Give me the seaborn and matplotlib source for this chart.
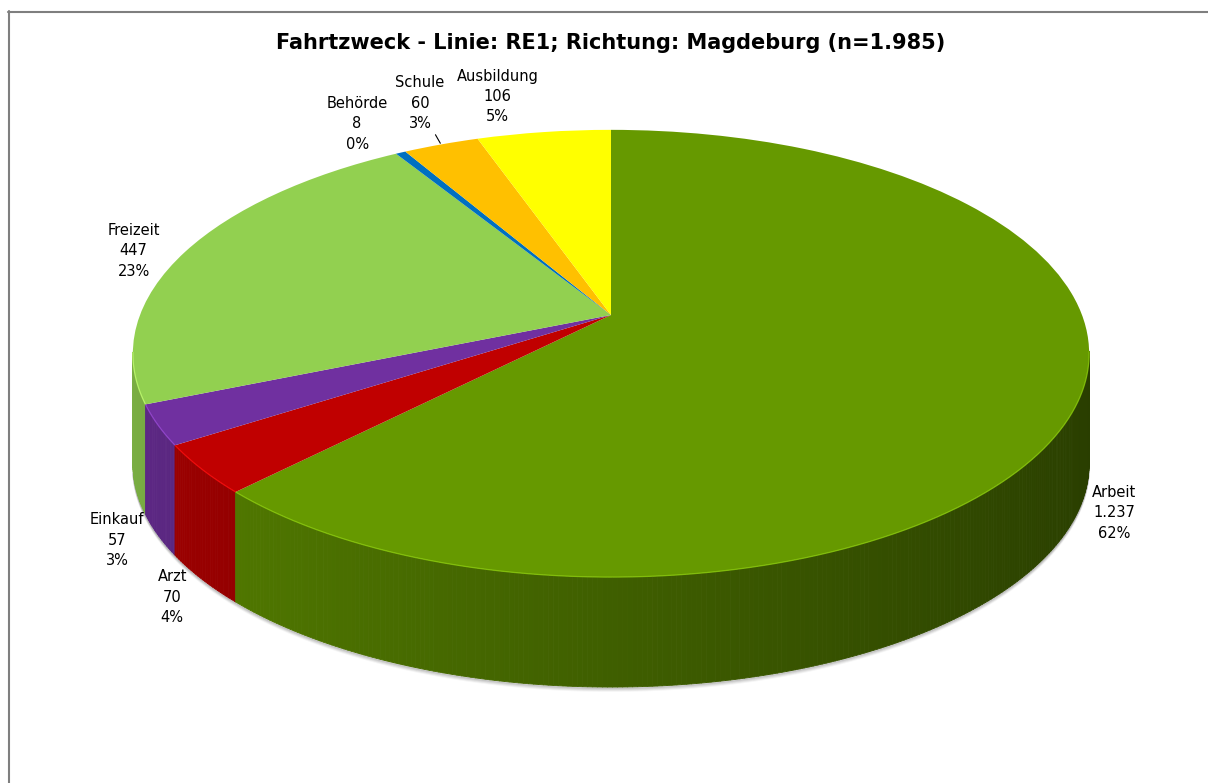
import numpy as np
import matplotlib
matplotlib.use("Agg")
import matplotlib.pyplot as plt
import matplotlib.colors as mcolors
from matplotlib.collections import PolyCollection
from matplotlib.transforms import Transform
from matplotlib.lines import Line2D
import seaborn as sns

# data
categories = ["Arbeit", "Arzt", "Einkauf", "Freizeit", "Behörde", "Schule", "Ausbildung"]
counts = [1237, 70, 57, 447, 8, 60, 106]
count_text = ["1.237", "70", "57", "447", "8", "60", "106"]
colors = ["#669900", "#c00000", "#7030a0", "#92d050", "#0070c0", "#ffc000", "#ffff00"]
title = "Fahrtzweck - Linie: RE1; Richtung: Magdeburg (n=1.985)"

# small manual label shifts (pixels, right / down) like Excel's label placement
label_nudge = {"Arbeit": (0, -12), "Arzt": (2, -3), "Einkauf": (-5, -10),
               "Freizeit": (-16, 9), "Behörde": (-25, -2), "Schule": (-6, -13),
               "Ausbildung": (-40, -5)}

sns.set_style("white")
plt.rcParams["font.family"] = ["DejaVu Sans"]

W, H = 1208, 783
# pie geometry in pixels: apex, x/y scale, wall height
cx, cy, sx, sy, depth_px = 611, 315, 471, 217, 110
P = 0.172  # perspective strength
D = depth_px / sy


class Tilt(Transform):
    """simple perspective tilt of the pie plane"""
    input_dims = output_dims = 2

    def __init__(self, p):
        super().__init__()
        self.p = p

    def transform_non_affine(self, xy):
        xy = np.asarray(xy, float)
        w = 1 + self.p * xy[:, 1]
        return np.column_stack([xy[:, 0] / w, xy[:, 1] / w])


tilt = Tilt(P)

fig = plt.figure(figsize=(W / 100, H / 100), dpi=100)
ax = fig.add_axes([0, 0, 1, 1])

wedges, _ = ax.pie(counts, colors=colors, startangle=90, counterclock=False,
                   wedgeprops=dict(linewidth=0))
ax.set_aspect("auto")
ax.set_xlim(-cx / sx, (W - cx) / sx)
ax.set_ylim(-(H - cy) / sy, cy / sy)
ax.axis("off")

for w in wedges:
    w.set_transform(tilt + ax.transData)
    w.set_zorder(3)

# side walls of the 3d pie (only the part in front of the silhouette)
lim = -P + 0.01
polys, fcs, order = [], [], []
for w, c in zip(wedges, colors):
    t = np.append(np.arange(w.theta1, w.theta2, 0.5), w.theta2)
    rgb = np.array(mcolors.to_rgb(c))
    for a, b in zip(t[:-1], t[1:]):
        m = np.deg2rad((a + b) / 2)
        if np.sin(m) > lim:
            continue
        pts = np.array([[np.cos(np.deg2rad(a)), np.sin(np.deg2rad(a))],
                        [np.cos(np.deg2rad(b)), np.sin(np.deg2rad(b))]])
        top = tilt.transform(pts)
        bot = top - [0, D]
        polys.append([top[0], top[1], bot[1], bot[0]])
        shade = 0.62 - 0.22 * np.cos(m)
        fcs.append(np.clip(rgb * shade, 0, 1))
        order.append(-np.sin(m))
    # light rim edge along the front
    tf = np.deg2rad(t)
    front = np.sin(tf) < lim
    if front.sum() > 1:
        rim = tilt.transform(np.column_stack([np.cos(tf[front]), np.sin(tf[front])]))
        ax.plot(rim[:, 0], rim[:, 1], color=np.clip(rgb * 1.25 + 0.05, 0, 1),
                lw=0.9, alpha=0.8, zorder=4, solid_capstyle="butt")
idx = np.argsort(order)
ax.add_collection(PolyCollection([polys[i] for i in idx], facecolors=[fcs[i] for i in idx],
                                 edgecolors=[fcs[i] for i in idx], linewidths=0.6, zorder=2))

# soft shadow under the base
tt = np.deg2rad(np.linspace(192, 348, 200))
base = tilt.transform(np.column_stack([np.cos(tt), np.sin(tt)])) - [0, D]
for k, a in zip([1, 2, 3, 4], [0.35, 0.25, 0.15, 0.08]):
    ax.plot(base[:, 0], base[:, 1] - k / sy, color="#808080", alpha=a, lw=1.2, zorder=1)

# data labels
total = sum(counts)
for w, name, ct, n in zip(wedges, categories, count_text, counts):
    m = np.deg2rad((w.theta1 + w.theta2) / 2)
    anchor = tilt.transform(np.array([[1.02 * np.cos(m), 1.02 * np.sin(m)]]))[0]
    if np.sin(m) < 0:
        anchor = anchor - [0, D]
    nx, ny = label_nudge[name]
    off = (np.cos(m) * 21 + nx * 0.72, np.sin(m) * 20 - ny * 0.72)
    ax.annotate(f"{name}\n{ct}\n{round(100 * n / total)}%", xy=anchor, xytext=off,
                textcoords="offset points", ha="center", va="center",
                fontsize=10.5, linespacing=1.45, color="black", zorder=5)
    if name == "Schule":
        rim = tilt.transform(np.array([[np.cos(m), np.sin(m)]]))[0]
        ax.annotate("", xy=rim, xytext=(-4, 7), textcoords="offset points",
                    arrowprops=dict(arrowstyle="-", color="black", lw=0.8,
                                    shrinkA=0, shrinkB=1), zorder=5)

fig.text(cx / W, 1 - 43 / H, title, ha="center", va="center",
         fontsize=15, fontweight="bold", color="black")

# chart frame
fig.add_artist(Line2D([8.5 / W, 8.5 / W], [0, 1 - 11 / H], color="#7f7f7f", lw=1.5))
fig.add_artist(Line2D([8 / W, 1], [1 - 11.5 / H, 1 - 11.5 / H], color="#7f7f7f", lw=1.5))

fig.savefig("out.png", dpi=100)
